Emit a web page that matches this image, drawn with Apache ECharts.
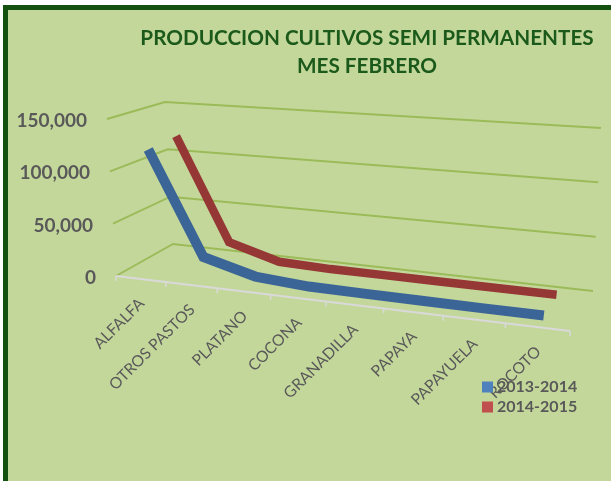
<!DOCTYPE html>
<html>
<head>
<meta charset="utf-8">
<style>html,body{margin:0;padding:0;background:#fff}#chart{width:611px;height:481px}</style>
<script src="https://cdn.jsdelivr.net/npm/echarts@6/dist/echarts.min.js"></script>
</head>
<body>
<div id="chart"></div>
<script>
const categories = ['ALFALFA', 'OTROS PASTOS', 'PLATANO', 'COCONA', 'GRANADILLA', 'PAPAYA', 'PAPAYUELA', 'ROCOTO'];
const serie2013 = [118000, 19000, 6000, 2500, 2000, 1800, 1500, 1500];
const serie2014 = [121000, 18000, 4000, 2500, 2500, 2500, 2500, 2500];
const yTicks = [0, 50000, 100000, 150000];
const yLabels = ['0', '50,000', '100,000', '150,000'];

// plain 2d grid, only used for its scales; the 3d look is done in project()
const gridBox = { left: 100, top: 100, width: 400, height: 150 };
const floor = { fl: [116, 276], fr: [570, 331], bl: [173, 244], br: [593, 291] };
const rise = { fl: [-9, -157], fr: [9, -178], bl: [-8, -142], br: [8, -163] };
const persp = 0.861;

function mix(c, s, d) {
  const x = (c.fl[0] * (1 - s) + c.fr[0] * s) * (1 - d) + (c.bl[0] * (1 - s) + c.br[0] * s) * d;
  const y = (c.fl[1] * (1 - s) + c.fr[1] * s) * (1 - d) + (c.bl[1] * (1 - s) + c.br[1] * s) * d;
  return [x, y];
}

function project(p, depth) {
  const t = (p[0] - gridBox.left) / gridBox.width;
  const h = (gridBox.top + gridBox.height - p[1]) / gridBox.height;
  const s = persp * t / (persp * t + 1 - t);
  const base = mix(floor, s, depth);
  const up = mix(rise, s, depth);
  return [base[0] + up[0] * h, base[1] + up[1] * h];
}

function ribbon(values, depth, color, width) {
  return function (params, api) {
    const pts = values.map((v, i) => project(api.coord([i, v]), depth));
    return {
      type: 'polyline',
      shape: { points: pts },
      style: { stroke: color, lineWidth: width, fill: null, lineJoin: 'miter', lineCap: 'butt' }
    };
  };
}

// wall lines, category axis and the tick labels all go through project() too
function walls(params, api) {
  const half = api.size([1, 0])[0] / 2;
  const kids = [];
  yTicks.forEach((tick, k) => {
    const c = api.coord([0, tick]);
    const start = project([c[0] - half, c[1]], 0);
    const corner = project([c[0] - half, c[1]], 1);
    const end = project([c[0] - half + 8 * half * 2, c[1]], 1);
    kids.push({
      type: 'polyline',
      shape: { points: [start, corner, end] },
      style: { stroke: '#9bbb59', lineWidth: 2, fill: null }
    });
    kids.push({
      type: 'text',
      x: start[0] - 20,
      y: start[1] + 2,
      style: { text: yLabels[k], align: 'right', verticalAlign: 'middle', fill: '#595959', font: 'bold 19px Lato' }
    });
  });
  return { type: 'group', children: kids };
}

function frontAxis(params, api) {
  const half = api.size([1, 0])[0] / 2;
  const kids = [];
  const pts = [];
  for (let i = 0; i <= categories.length; i++) {
    const c = api.coord([i, 0]);
    const p = project([c[0] - half, c[1]], 0);
    pts.push(p);
    kids.push({
      type: 'line',
      shape: { x1: p[0], y1: p[1], x2: p[0], y2: p[1] + 5 },
      style: { stroke: '#d9d9d9', lineWidth: 1.5 }
    });
  }
  kids.push({ type: 'polyline', shape: { points: pts }, style: { stroke: '#d9d9d9', lineWidth: 2, fill: null } });
  categories.forEach((name, i) => {
    const p = project(api.coord([i, 0]), 0);
    kids.push({
      type: 'text',
      x: p[0] + 1,
      y: p[1] + 22,
      rotation: Math.PI / 4,
      style: { text: name, align: 'right', verticalAlign: 'middle', fill: '#595959', font: '15.7px Lato' }
    });
  });
  return { type: 'group', children: kids };
}

const chart = echarts.init(document.getElementById('chart'));
chart.setOption({
  backgroundColor: '#ffffff',
  animation: false,
  graphic: [
    { type: 'rect', z: -10, shape: { x: 3, y: 5, width: 608, height: 476 }, style: { fill: '#c4d79b' } },
    { type: 'rect', z: -9, shape: { x: 3, y: 5, width: 608, height: 5 }, style: { fill: '#14500f' } },
    { type: 'rect', z: -9, shape: { x: 3, y: 5, width: 5, height: 476 }, style: { fill: '#14500f' } }
  ],
  title: {
    text: 'PRODUCCION CULTIVOS SEMI PERMANENTES\nMES FEBRERO',
    left: 362,
    top: 19,
    textAlign: 'center',
    textStyle: { color: '#1b5a1b', fontFamily: 'Lato', fontWeight: 'bold', fontSize: 20.7, lineHeight: 28 }
  },
  legend: {
    left: 482,
    top: 379,
    padding: 0,
    orient: 'vertical',
    itemWidth: 11,
    itemHeight: 11,
    itemGap: 4,
    icon: 'rect',
    textStyle: { color: '#595959', fontFamily: 'Lato', fontWeight: 'bold', fontSize: 16, padding: [0, 0, 0, -1] },
    data: ['2013-2014', '2014-2015']
  },
  grid: gridBox,
  xAxis: { type: 'category', data: categories, show: false },
  yAxis: { type: 'value', min: 0, max: 150000, interval: 50000, show: false },
  series: [
    { type: 'custom', name: 'walls', data: [0], z: 1, silent: true, renderItem: walls },
    { type: 'custom', name: 'axis', data: [0], z: 2, silent: true, renderItem: frontAxis },
    { type: 'custom', name: '2014-2015', data: [0], z: 3, itemStyle: { color: '#c0504d' }, renderItem: ribbon(serie2014, 0.75, '#953735', 8.5) },
    { type: 'custom', name: '2013-2014', data: [0], z: 4, itemStyle: { color: '#4f81bd' }, renderItem: ribbon(serie2013, 0.25, '#3b6596', 10) }
  ]
});
</script>
</body>
</html>
